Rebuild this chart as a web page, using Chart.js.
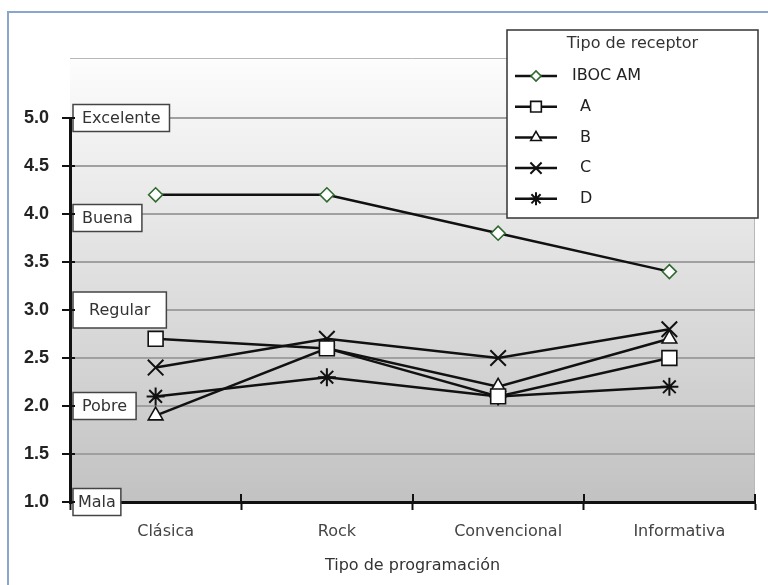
<!DOCTYPE html>
<html>
<head>
<meta charset="utf-8">
<title>Calidad percibida por tipo de receptor</title>
<script src="https://cdn.jsdelivr.net/npm/chart.js@4.4.1/dist/chart.umd.min.js"></script>
<style>
  html, body { margin: 0; padding: 0; background: #fff; }
  #wrap { position: relative; width: 768px; height: 585px; overflow: hidden; }
  #frame { position: absolute; left: 7px; top: 11px; width: 800px; height: 600px;
           border-left: 2px solid #8aa6cc; border-top: 2px solid #8aa6cc; }
  #chart { position: absolute; left: 0; top: 0; }
</style>
</head>
<body>
<div id="wrap">
  <div id="frame"></div>
  <canvas id="chart" width="768" height="585"></canvas>
</div>
<script>
// programming types on the x axis
const programas = ['Clásica', 'Rock', 'Convencional', 'Informativa'];

// mean opinion score per receiver type
const receptores = ['IBOC AM', 'A', 'B', 'C', 'D'];
const ibocAM = [4.2, 4.2, 3.8, 3.4];
const recA = [2.7, 2.6, 2.1, 2.5];
const recB = [1.9, 2.6, 2.2, 2.7];
const recC = [2.4, 2.7, 2.5, 2.8];
const recD = [2.1, 2.3, 2.1, 2.2];

// quality scale labels and the score each one sits on
const calidad = ['Excelente', 'Buena', 'Regular', 'Pobre', 'Mala'];
const calidadValor = [5, 4, 3, 2, 1];

const FONT = '"DejaVu Sans", Lato, sans-serif';

const serie = (label, data, style, radius, color) => ({
  label, data,
  borderColor: '#111',
  borderWidth: 2.5,
  tension: 0,
  pointStyle: style,
  pointRadius: radius,
  pointHoverRadius: radius,
  pointBackgroundColor: '#fff',
  pointBorderColor: color || '#111',
  pointBorderWidth: style === 'crossRot' || style === 'star' ? 2 : 1.6
});

// gradient plot background + tick marks crossing the axes
const fondo = {
  id: 'fondo',
  beforeDraw(chart) {
    const { ctx, chartArea: a } = chart;
    const top = a.top - 60;
    const g = ctx.createLinearGradient(0, top, 0, a.bottom);
    g.addColorStop(0, '#fdfdfd');
    g.addColorStop(0.15, '#f3f3f3');
    g.addColorStop(1, '#c2c2c2');
    ctx.save();
    ctx.fillStyle = g;
    ctx.fillRect(a.left, top, a.right - a.left, a.bottom - top);
    ctx.strokeStyle = '#b8b8b8';
    ctx.lineWidth = 1;
    ctx.beginPath();
    ctx.moveTo(a.left, top + 0.5);
    ctx.lineTo(a.right - 0.5, top + 0.5);
    ctx.lineTo(a.right - 0.5, a.bottom);
    ctx.stroke();
    ctx.restore();
  },
  afterDraw(chart) {
    const { ctx, chartArea: a, scales } = chart;
    ctx.save();
    ctx.strokeStyle = '#111';
    ctx.lineWidth = 2;
    ctx.beginPath();
    for (let i = 0; i <= programas.length; i++) {
      const x = Math.round(scales.x.getPixelForValue(i - 0.5));
      ctx.moveTo(x, a.bottom);
      ctx.lineTo(x, a.bottom - 8);
    }
    scales.y.ticks.forEach(t => {
      const y = Math.round(scales.y.getPixelForValue(t.value));
      ctx.moveTo(a.left, y);
      ctx.lineTo(a.left + 5, y);
    });
    ctx.stroke();
    ctx.restore();
  }
};

// boxed quality labels along the y axis
const etiquetas = {
  id: 'etiquetas',
  afterDatasetsDraw(chart) {
    const { ctx, chartArea: a, scales } = chart;
    ctx.save();
    ctx.font = '16px ' + FONT;
    ctx.textBaseline = 'middle';
    calidad.forEach((txt, i) => {
      let y = scales.y.getPixelForValue(calidadValor[i]);
      const pad = txt === 'Regular' ? 32 : txt === 'Mala' ? 10 : 18;
      const w = ctx.measureText(txt).width + pad;
      const h = txt === 'Regular' ? 36 : 27;
      if (txt === 'Buena') y += 4;
      const x = a.left + 3;
      ctx.fillStyle = '#fff';
      ctx.fillRect(x, y - h / 2, w, h);
      ctx.strokeStyle = '#444';
      ctx.lineWidth = 1.5;
      ctx.strokeRect(x, y - h / 2, w, h);
      ctx.fillStyle = '#333';
      ctx.textAlign = 'center';
      ctx.fillText(txt, x + w / 2, y + 1);
    });
    ctx.restore();
  }
};

// legend box in the top right corner
const leyenda = {
  id: 'leyenda',
  afterDraw(chart) {
    const { ctx } = chart;
    const bx = 507, by = 30, bw = 251, bh = 188;
    ctx.save();
    ctx.fillStyle = '#fff';
    ctx.fillRect(bx, by, bw, bh);
    ctx.strokeStyle = '#333';
    ctx.lineWidth = 1.5;
    ctx.strokeRect(bx, by, bw, bh);
    ctx.fillStyle = '#333';
    ctx.font = '16px ' + FONT;
    ctx.textAlign = 'center';
    ctx.textBaseline = 'middle';
    ctx.fillText('Tipo de receptor', bx + bw / 2, by + 14);
    ctx.textAlign = 'left';
    chart.data.datasets.forEach((ds, i) => {
      const y = by + 46 + i * 30.7;
      ctx.strokeStyle = '#111';
      ctx.lineWidth = 2.5;
      ctx.beginPath();
      ctx.moveTo(bx + 8, y);
      ctx.lineTo(bx + 50, y);
      ctx.stroke();
      ctx.fillStyle = '#fff';
      ctx.strokeStyle = ds.pointBorderColor;
      ctx.lineWidth = ds.pointBorderWidth;
      Chart.helpers.drawPoint(ctx, {
        pointStyle: ds.pointStyle, rotation: 0, radius: ds.pointRadius * 0.72, borderWidth: ds.pointBorderWidth
      }, bx + 29, y);
      ctx.fillStyle = '#222';
      ctx.fillText(ds.label, bx + (i === 0 ? 65 : 73), y);
    });
    ctx.restore();
  }
};

new Chart(document.getElementById('chart'), {
  type: 'line',
  data: {
    labels: programas,
    datasets: [
      serie(receptores[0], ibocAM, 'rectRot', 7, '#2e6a2e'),
      serie(receptores[1], recA, 'rect', 10.5),
      serie(receptores[2], recB, 'triangle', 8.5),
      serie(receptores[3], recC, 'crossRot', 11),
      serie(receptores[4], recD, 'star', 9)
    ]
  },
  options: {
    responsive: false,
    animation: false,
    events: [],
    layout: { padding: { top: 118, right: 11, left: 0, bottom: 0 } },
    plugins: { legend: { display: false }, tooltip: { enabled: false } },
    scales: {
      x: {
        offset: true,
        afterFit: s => { s.height = 83; },
        grid: { drawOnChartArea: false, offset: true, tickLength: 8, tickWidth: 2, tickColor: '#111' },
        border: { color: '#111', width: 3 },
        ticks: { color: '#444', font: { family: FONT, size: 16 }, padding: 12, labelOffset: 10 },
        title: {
          display: true, text: 'Tipo de programación', color: '#333',
          font: { family: FONT, size: 16 }, padding: { top: 4, bottom: 10 }
        }
      },
      y: {
        min: 1, max: 5,
        afterFit: s => { s.width = 70; },
        grid: { color: '#a0a0a0', lineWidth: 2, tickLength: 8, tickWidth: 2, tickColor: '#111' },
        border: { color: '#111', width: 3 },
        ticks: {
          stepSize: 0.5, padding: 13, color: '#222',
          font: { family: '"Liberation Sans", Arial, sans-serif', size: 18, weight: 'bold' },
          callback: v => v.toFixed(1)
        }
      }
    }
  },
  plugins: [fondo, etiquetas, leyenda]
});
</script>
</body>
</html>
